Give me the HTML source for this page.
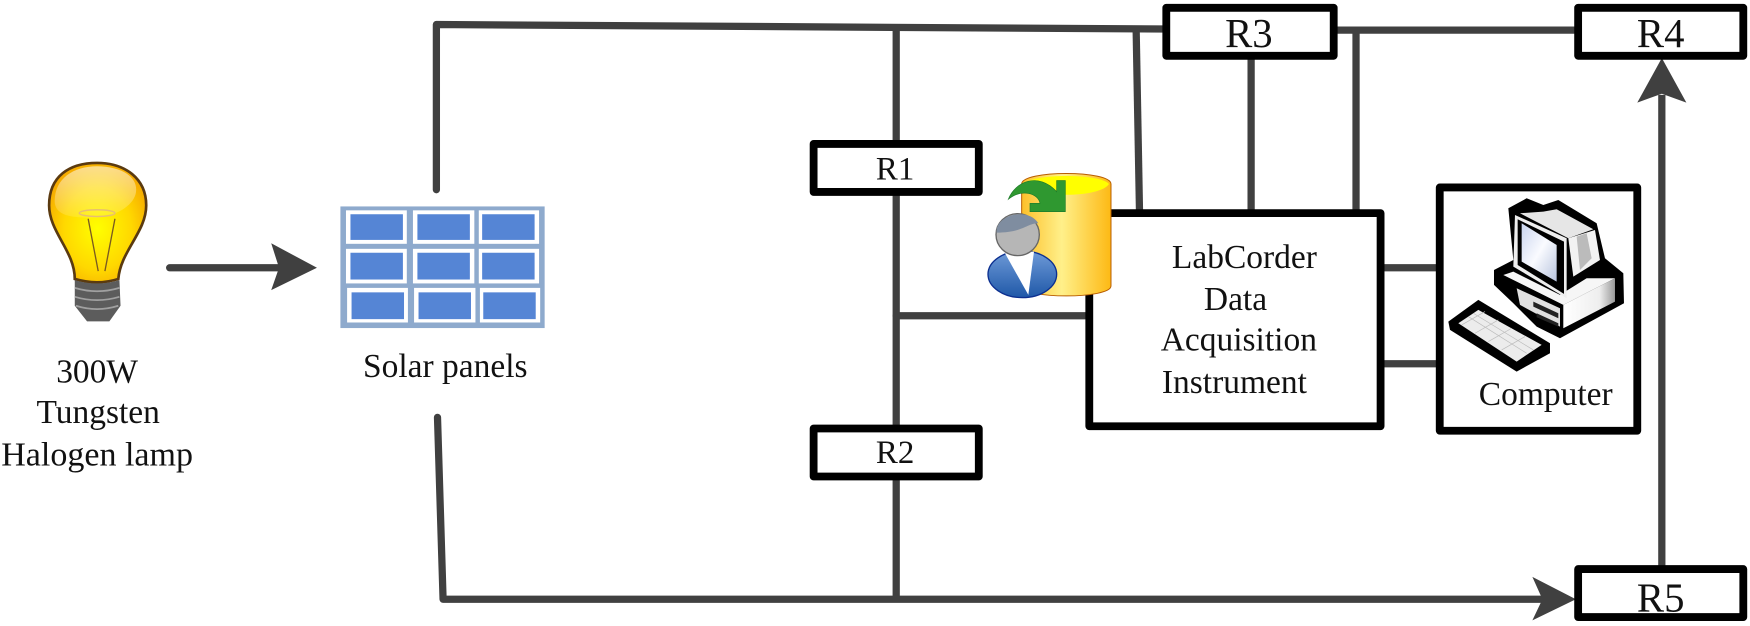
<!DOCTYPE html>
<html><head><meta charset="utf-8"><style>html,body{margin:0;padding:0;background:#fff;width:1750px;height:626px;overflow:hidden}svg{display:block}text{font-family:"Liberation Serif",serif;fill:#111}</style></head><body>
<svg xmlns="http://www.w3.org/2000/svg" width="1750" height="626" viewBox="0 0 1568 561" preserveAspectRatio="none">
<defs>
<radialGradient id="b" cx="50%" cy="55%" r="58%"><stop offset="0" stop-color="#ffff00"/><stop offset=".6" stop-color="#ffd800"/><stop offset="1" stop-color="#f5a800"/></radialGradient>
<linearGradient id="bh" x1="0" y1="0" x2="0" y2="1"><stop offset="0" stop-color="#fff" stop-opacity=".55"/><stop offset="1" stop-color="#fff" stop-opacity=".12"/></linearGradient>
<linearGradient id="c" x1="0" y1="0" x2="1" y2="0"><stop offset="0" stop-color="#fdc02a"/><stop offset=".45" stop-color="#fff08a"/><stop offset="1" stop-color="#fdb914"/></linearGradient>
<linearGradient id="p" x1="0" y1="0" x2="0" y2="1"><stop offset="0" stop-color="#6f9bd8"/><stop offset="1" stop-color="#1f58a8"/></linearGradient>
<linearGradient id="s" x1="0" y1="0" x2="1" y2="1"><stop offset="0" stop-color="#c9d4ee"/><stop offset=".5" stop-color="#fafbff"/><stop offset="1" stop-color="#b8c4de"/></linearGradient>
<linearGradient id="sd" x1="0" y1="0" x2="1" y2="0"><stop offset="0" stop-color="#fff"/><stop offset=".7" stop-color="#eee"/><stop offset="1" stop-color="#999"/></linearGradient>
</defs>
<g fill="none" stroke="#404040" stroke-width="6.5" stroke-linecap="round" stroke-linejoin="round">
<path d="M391 170V22L1045 26"/><path d="M1195 27H1414"/>
<path d="M1018 27L1021 190" stroke-linecap="butt"/><path d="M1121 49V190" stroke-linecap="butt"/><path d="M1215 27V190" stroke-linecap="butt"/>
<path d="M803 25V535" stroke-linecap="butt"/><path d="M803 283H975"/>
<path d="M1237 240H1292M1237 326H1292"/>
<path d="M392 374L397 537H1385"/><path d="M1489 510V85" stroke-linecap="butt"/><path d="M152 240H252"/>
</g>
<g fill="#404040">
<path d="M243 218L284 240L243 260L250 240Z"/>
<path d="M1373 517L1412 537L1373 556L1382 537Z"/>
<path d="M1467 92L1489 52L1511 92L1489 84Z"/>
</g>
<g fill="#fff" stroke="#000" stroke-width="7" stroke-linejoin="round">
<rect x="1045" y="7" width="150" height="43"/><rect x="1414" y="7" width="148" height="43"/>
<rect x="1414" y="510" width="148" height="43"/>
<rect x="729" y="129" width="148" height="43"/><rect x="729" y="384" width="148" height="43"/>
<rect x="976" y="191" width="261" height="191"/><rect x="1290" y="168" width="177" height="218"/>
</g>
<rect x="305" y="185" width="183" height="109" fill="#8eaacd"/>
<g fill="#fff">
<rect x="310" y="188.5" width="54.5" height="30"/><rect x="370" y="188.5" width="55" height="30"/><rect x="429" y="188.5" width="54" height="30"/>
<rect x="310" y="223" width="54.5" height="31"/><rect x="370" y="223" width="55" height="31"/><rect x="429" y="223" width="54" height="31"/>
<rect x="311" y="258" width="54.5" height="31"/><rect x="371" y="258" width="55" height="31"/><rect x="430" y="258" width="54" height="31"/>
</g>
<g fill="#5585d5">
<rect x="314" y="192" width="47" height="23"/><rect x="374" y="192" width="47" height="23"/><rect x="432" y="192" width="47" height="23"/>
<rect x="314" y="226.5" width="47" height="24"/><rect x="374" y="226.5" width="47" height="24"/><rect x="432" y="226.5" width="47" height="24"/>
<rect x="315" y="262" width="47" height="24"/><rect x="375" y="262" width="47" height="24"/><rect x="433" y="262" width="47" height="24"/>
</g>
<path d="M67 250C67 225 44 208 44 184C44 158 62 146 87 146C112 146 131 160 131 184C131 208 108 225 106 250Q87 256 67 250Z" fill="url(#b)" stroke="#5a3a10" stroke-width="2.4"/>
<path d="M49 180C49 160 66 149 87 149C103 149 122 155 122 170C122 185 100 195 85 195C68 195 49 195 49 180Z" fill="url(#bh)"/>
<ellipse cx="87" cy="191" rx="16" ry="3" fill="none" stroke="#e8bf70" stroke-width="1.3"/>
<path d="M79 196L88 243M103 196L94 243" stroke="#7a5a20" stroke-width="1.2" fill="none"/>
<path d="M67 251Q87 257 107 251L108 274L98 288H78L67 274Z" fill="#5c5c5c"/>
<path d="M67 258Q87 264 107 258M67 266Q87 272 107 266M68 274Q87 280 106 274" stroke="#a0a0a0" stroke-width="1.6" fill="none"/>
<!-- database and user, in 3x crop coords -->
<g transform="scale(.896) translate(960 160) scale(.3333)">
<path d="M185 72C185 30 453 30 453 72V378C453 418 185 418 185 378Z" fill="url(#c)" stroke="#b85c00" stroke-width="3"/>
<path d="M190 72C220 40 420 40 447 72C420 115 220 115 190 72Z" fill="#ffff00"/>
<path d="M145 118C165 65 235 35 290 95V62H316V155H210V130H240C235 100 185 85 145 118Z" fill="#2f9830" stroke="#1d7a2a" stroke-width="2"/>
<ellipse cx="187" cy="343" rx="103" ry="70" fill="url(#p)" stroke="#0c2f90" stroke-width="4"/>
<path d="M135 280L205 405L222 275Z" fill="#fff"/>
<ellipse cx="173" cy="224" rx="65" ry="63" fill="#b6b6b6" stroke="#666" stroke-width="4"/>
<path d="M110 218C105 165 205 140 235 190C200 190 190 218 110 218Z" fill="#7f8da0"/>
</g>
<!-- computer, in 3x crop coords -->
<g transform="scale(.896) translate(1420 170) scale(.3333)">
<path d="M265 115L320 85L370 105L415 90L530 160L555 265L610 310L612 400L420 505L350 470L280 400L222 345V300L280 270Z" fill="#000"/>
<path d="M85 455L175 390L390 520V550L290 605L90 480Z" fill="#000"/>
<path d="M300 130L370 125L410 118L520 178L445 205Z" fill="#e6e6e6"/>
<path d="M445 205L525 180L540 270L460 320Z" fill="#f2f2f2"/>
<path d="M470 200L500 190L515 265L480 300Z" fill="#bbb"/>
<path d="M250 315L280 305L420 375L500 325L585 325L430 405Z" fill="#f6f6f6"/>
<path d="M430 405L585 325V395L430 475Z" fill="url(#sd)"/>
<path d="M290 355L420 415L420 470L300 405Z" fill="#e0e0e0"/>
<path d="M340 395L415 430V445L340 410ZM350 430L415 460V470L350 442Z" fill="#222"/>
<path d="M285 135L440 205V385L280 290Z" fill="#eee"/>
<path d="M293 148L432 215V372L293 285Z" fill="#000"/>
<path d="M305 160L410 225V335L305 275Z" fill="url(#s)"/>
<path d="M115 460L175 420L365 525L290 575Z" fill="#ececec"/>
<path d="M145 440L320 550M160 430L340 540M125 465L195 425M165 490L235 450M205 515L275 475M245 540L315 500" stroke="#bbb" stroke-width="2" fill="none"/>
</g>
<g font-size="29.5" text-anchor="middle">
<text x="802" y="161">R1</text><text x="802" y="415">R2</text>
</g>
<g font-size="36.5" text-anchor="middle">
<text x="1119" y="42">R3</text><text x="1488" y="42">R4</text><text x="1488" y="548">R5</text>
</g>
<g font-size="30" text-anchor="middle">
<text x="1115" y="240">LabCorder</text><text x="1107" y="278">Data</text><text x="1110" y="314">Acquisition</text><text x="1106" y="352">Instrument</text>
<text x="1385" y="363">Computer</text>
<text x="399" y="338">Solar panels</text>
<text x="87" y="343">300W</text><text x="88" y="379">Tungsten</text>
<text x="87" y="417" font-size="30.5">Halogen lamp</text>
</g>
</svg>
</body></html>
